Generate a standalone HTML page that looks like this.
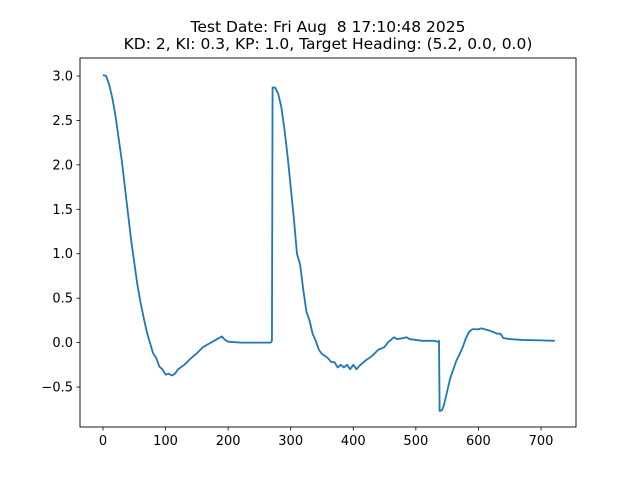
<!DOCTYPE html>
<html><head><meta charset="utf-8">
<style>
body{margin:0;background:#fff;}
svg{display:block;font-family:"DejaVu Sans","Liberation Sans",sans-serif;}
text{white-space:pre;}
</style></head>
<body>
<svg id="chart" width="640" height="480">
<rect width="640" height="480" fill="#fff"/>
<text x="328" y="32" text-anchor="middle" font-size="15.5" xml:space="preserve">Test Date: Fri Aug  8 17:10:48 2025</text>
<text x="328" y="49" text-anchor="middle" font-size="15.5">KD: 2, KI: 0.3, KP: 1.0, Target Heading: (5.2, 0.0, 0.0)</text>
<g id="xticks"></g>
<g id="yticks"></g>
<path id="line" fill="none" stroke="#1f77b4" stroke-width="1.8" stroke-linejoin="round"/>
<rect x="80" y="58" width="496" height="369" fill="none" stroke="#000" stroke-width="0.9"/>
</svg>
<script>
const xTickValues=[0,100,200,300,400,500,600,700];
const yTickValues=[-0.5,0.0,0.5,1.0,1.5,2.0,2.5,3.0];
const yTickLabels=["−0.5","0.0","0.5","1.0","1.5","2.0","2.5","3.0"];
const times=[0,5,10,15,20,25,30,35,40,45,50,55,60,65,70,75,80,85,90,95,100,105,110,115,120,130,140,150,160,170,180,190,195,200,220,260,268,270,271,275,280,285,290,295,300,305,310,315,320,325,330,335,340,345,350,355,360,365,370,375,380,385,390,395,400,405,410,420,430,440,450,455,460,465,470,480,485,490,500,510,520,530,535,537,538,542,545,550,555,560,565,570,575,580,585,590,600,605,610,620,630,635,640,650,670,700,722];
const values=[3.01,3.0,2.9,2.75,2.55,2.3,2.05,1.75,1.45,1.15,0.9,0.65,0.45,0.28,0.12,0.0,-0.12,-0.17,-0.27,-0.3,-0.36,-0.35,-0.37,-0.35,-0.3,-0.25,-0.18,-0.12,-0.05,-0.01,0.03,0.07,0.03,0.01,0.0,0.0,0.0,0.02,2.87,2.87,2.8,2.65,2.4,2.1,1.75,1.4,1.0,0.88,0.6,0.35,0.25,0.1,0.02,-0.08,-0.13,-0.15,-0.18,-0.22,-0.22,-0.28,-0.25,-0.28,-0.25,-0.3,-0.25,-0.3,-0.26,-0.2,-0.15,-0.08,-0.05,0.0,0.03,0.06,0.04,0.05,0.06,0.04,0.03,0.02,0.02,0.02,0.01,0.02,-0.77,-0.76,-0.7,-0.55,-0.4,-0.3,-0.2,-0.13,-0.05,0.05,0.12,0.15,0.15,0.16,0.15,0.13,0.1,0.1,0.05,0.04,0.03,0.025,0.02];
const NS="http://www.w3.org/2000/svg";
function xs(v){return 103+v*0.6257;}
function ys(v){return 342.6-v*88.86;}
const xg=document.getElementById('xticks'), yg=document.getElementById('yticks');
xTickValues.forEach(v=>{
  const l=document.createElementNS(NS,'line');
  
  
  l.setAttribute('x1',xs(v));l.setAttribute('x2',xs(v));l.setAttribute('y1',427);l.setAttribute('y2',430.5);l.setAttribute('stroke','#000');l.setAttribute('stroke-width','0.8');
  xg.appendChild(l);
  const t=document.createElementNS(NS,'text');
  
  
  t.setAttribute('x',xs(v));t.setAttribute('y',445);t.setAttribute('text-anchor','middle');t.setAttribute('font-size','13');
  t.textContent=v;xg.appendChild(t);
});
yTickValues.forEach((v,i)=>{
  const l=document.createElementNS(NS,'line');
  
  
  l.setAttribute('x1',76.5);l.setAttribute('x2',80);l.setAttribute('y1',ys(v));l.setAttribute('y2',ys(v));l.setAttribute('stroke','#000');l.setAttribute('stroke-width','0.8');
  yg.appendChild(l);
  const t=document.createElementNS(NS,'text');
  
  
  t.setAttribute('x',73);t.setAttribute('y',ys(v)+4.5);t.setAttribute('text-anchor','end');t.setAttribute('font-size','13');
  t.textContent=yTickLabels[i];yg.appendChild(t);
});
document.getElementById('line').setAttribute('d',times.map((t,i)=>(i?'L':'M')+xs(t).toFixed(2)+','+ys(values[i]).toFixed(2)).join(''));
</script>
</body></html>
